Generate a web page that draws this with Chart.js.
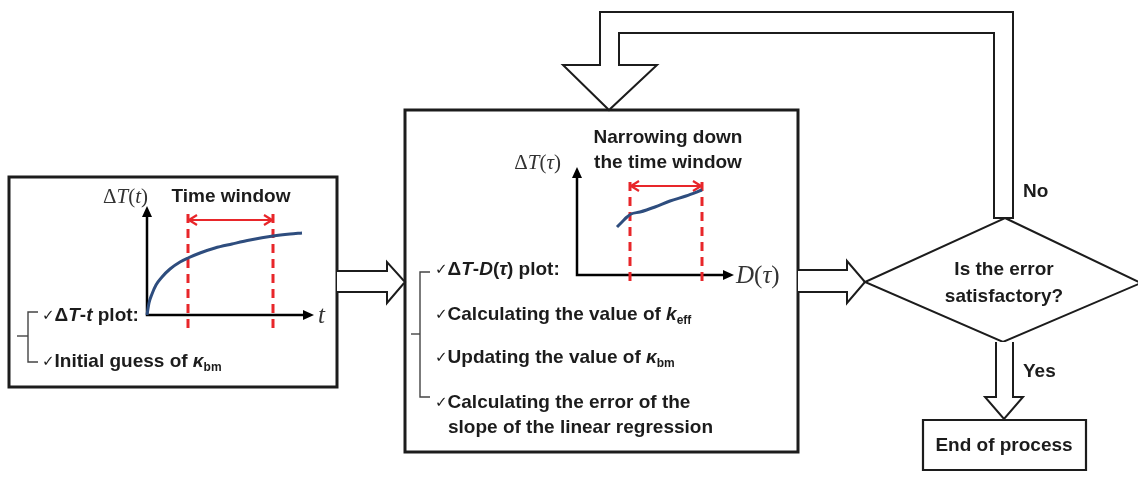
<!DOCTYPE html>
<html>
<head>
<meta charset="utf-8">
<script src="https://cdn.jsdelivr.net/npm/chart.js@4.4.0/dist/chart.umd.min.js"></script>
<style>
  html, body { margin: 0; padding: 0; background: #fff; overflow: hidden; }
  canvas { display: block; }
</style>
</head>
<body>
<canvas id="flow" width="1138" height="477"></canvas>
<script>
// the page itself is the coordinate system: x 0..1138, y 0..477 (downwards)
const W = 1138, H = 477;

// left sketch: dT(t) against t, with the chosen time window
const curveT_x = [147, 149, 152, 156, 162, 170, 180, 188, 200, 215, 232, 250, 273, 290, 302];
const curveT_y = [315, 303, 294, 285, 277, 269, 262, 258, 253, 248, 244, 240, 236, 234, 233];
const windowT_x = [188, 273];

// middle sketch: dT(tau) against D(tau), narrowed window
const curveD_x = [617, 622, 627, 631, 640, 655, 670, 686, 702];
const curveD_y = [227, 222, 217, 214, 212, 207, 201, 196, 190];
const windowD_x = [630, 702];

// texts
const leftItems = [
  [['ck', '✓'], ['b', 'Δ'], ['bi', 'T'], ['b', '-'], ['bi', 't'], ['b', ' plot:']],
  [['ck', '✓'], ['b', 'Initial guess of '], ['bi', 'κ'], ['sub', 'bm']]
];
const midItems = [
  [['ck', '✓'], ['b', 'Δ'], ['bi', 'T'], ['b', '-'], ['bi', 'D'], ['b', '('], ['bi', 'τ'], ['b', ') plot:']],
  [['ck', '✓'], ['b', 'Calculating the value of '], ['bi', 'k'], ['sub', 'eff']],
  [['ck', '✓'], ['b', 'Updating the value of '], ['bi', 'κ'], ['sub', 'bm']],
  [['ck', '✓'], ['b', 'Calculating the error of the']],
  [['b', 'slope of the linear regression']]
];
const windowTitleT = ['Time window'];
const windowTitleD = ['Narrowing down', 'the time window'];
const decisionText = ['Is the error', 'satisfactory?'];
const endText = 'End of process';

const SANS = '"Liberation Sans", Arial, sans-serif';
const SERIF = '"Liberation Serif", "Times New Roman", serif';
const INK = '#1c1c1c';

function fontFor(kind) {
  switch (kind) {
    case 'b': return 'bold 19px ' + SANS;
    case 'bi': return 'italic bold 19px ' + SANS;
    case 'sub': return 'bold 12px ' + SANS;
    case 'ck': return '15px "DejaVu Sans", sans-serif';
    case 's': return '21px ' + SERIF;
    case 'si': return 'italic 21px ' + SERIF;
    case 'sl': return '25px ' + SERIF;
    case 'sli': return 'italic 25px ' + SERIF;
  }
}

function rich(ctx, segs, x, y, align) {
  let total = 0;
  segs.forEach(([k, t]) => { ctx.font = fontFor(k); total += ctx.measureText(t).width; });
  let cx = align === 'center' ? x - total / 2 : align === 'right' ? x - total : x;
  ctx.textAlign = 'left';
  ctx.textBaseline = 'middle';
  segs.forEach(([k, t]) => {
    ctx.font = fontFor(k);
    ctx.fillText(t, cx, k === 'sub' ? y + 6 : y);
    cx += ctx.measureText(t).width;
  });
}

function path(ctx, sx, sy, pts, close) {
  ctx.beginPath();
  pts.forEach(([x, y], i) => i ? ctx.lineTo(sx(x), sy(y)) : ctx.moveTo(sx(x), sy(y)));
  if (close) ctx.closePath();
}

function head(ctx, sx, sy, x, y, dx, dy, len, half, fill) {
  const px = sx(x), py = sy(y), nx = -dy, ny = dx;
  ctx.beginPath();
  ctx.moveTo(px, py);
  ctx.lineTo(px - dx * len + nx * half, py - dy * len + ny * half);
  if (fill) {
    ctx.lineTo(px - dx * len - nx * half, py - dy * len - ny * half);
    ctx.closePath();
    ctx.fill();
  } else {
    ctx.moveTo(px, py);
    ctx.lineTo(px - dx * len - nx * half, py - dy * len - ny * half);
    ctx.stroke();
  }
}

const flowShapes = {
  id: 'flowShapes',
  beforeDatasetsDraw(chart) {
    const ctx = chart.ctx;
    const sx = v => chart.scales.x.getPixelForValue(v);
    const sy = v => chart.scales.y.getPixelForValue(v);
    ctx.save();
    ctx.strokeStyle = INK;
    ctx.fillStyle = '#fff';
    ctx.lineJoin = 'miter';

    // boxes
    ctx.lineWidth = 3;
    path(ctx, sx, sy, [[9, 177], [337, 177], [337, 387], [9, 387]], true); ctx.stroke();
    path(ctx, sx, sy, [[405, 110], [798, 110], [798, 452], [405, 452]], true); ctx.stroke();
    ctx.lineWidth = 2.2;
    path(ctx, sx, sy, [[923, 420], [1086, 420], [1086, 470], [923, 470]], true); ctx.stroke();

    // block arrows
    ctx.lineWidth = 2;
    path(ctx, sx, sy, [[337, 271], [387, 271], [387, 262], [405, 282], [387, 303], [387, 292], [337, 292]], false);
    ctx.fill(); ctx.stroke();
    path(ctx, sx, sy, [[798, 270], [847, 270], [847, 261], [865, 282], [847, 303], [847, 292], [798, 292]], false);
    ctx.fill(); ctx.stroke();
    // feedback loop
    path(ctx, sx, sy, [[994, 218], [994, 33], [619, 33], [619, 65], [657, 65], [609, 110],
      [563, 65], [600, 65], [600, 12], [1013, 12], [1013, 218]], true);
    ctx.fill(); ctx.stroke();
    // decision
    path(ctx, sx, sy, [[1005, 218], [1141, 283], [1003, 342], [865, 282]], true);
    ctx.fill(); ctx.stroke();
    // yes arrow
    path(ctx, sx, sy, [[996, 342], [996, 397], [985, 397], [1004, 419], [1023, 397], [1013, 397], [1013, 342]], false);
    ctx.fill(); ctx.stroke();

    // brackets
    ctx.lineWidth = 1.4;
    ctx.strokeStyle = '#444';
    path(ctx, sx, sy, [[38, 312], [28, 312], [28, 362], [38, 362]], false); ctx.stroke();
    path(ctx, sx, sy, [[17, 336], [28, 336]], false); ctx.stroke();
    path(ctx, sx, sy, [[430, 272], [420, 272], [420, 397], [430, 397]], false); ctx.stroke();
    path(ctx, sx, sy, [[411, 334], [420, 334]], false); ctx.stroke();

    // sketch axes
    ctx.strokeStyle = '#000';
    ctx.fillStyle = '#000';
    ctx.lineWidth = 2.5;
    path(ctx, sx, sy, [[147, 214], [147, 315], [306, 315]], false); ctx.stroke();
    head(ctx, sx, sy, 147, 206, 0, -1, 11, 5, true);
    head(ctx, sx, sy, 314, 315, 1, 0, 11, 5, true);
    path(ctx, sx, sy, [[577, 175], [577, 275], [726, 275]], false); ctx.stroke();
    head(ctx, sx, sy, 577, 167, 0, -1, 11, 5, true);
    head(ctx, sx, sy, 734, 275, 1, 0, 11, 5, true);

    // window arrows
    ctx.strokeStyle = '#e8262a';
    ctx.lineWidth = 2.2;
    [[windowT_x, 220], [windowD_x, 186]].forEach(([xs, y]) => {
      path(ctx, sx, sy, [[xs[0] + 1, y], [xs[1] - 1, y]], false); ctx.stroke();
      head(ctx, sx, sy, xs[0] + 1, y, -1, 0, 8, 5, false);
      head(ctx, sx, sy, xs[1] - 1, y, 1, 0, 8, 5, false);
    });
    ctx.restore();
  },
  afterDatasetsDraw(chart) {
    const ctx = chart.ctx;
    const sx = v => chart.scales.x.getPixelForValue(v);
    const sy = v => chart.scales.y.getPixelForValue(v);
    ctx.save();
    ctx.fillStyle = INK;
    rich(ctx, leftItems[0], sx(42), sy(316), 'left');
    rich(ctx, leftItems[1], sx(42), sy(362), 'left');
    const midY = [270, 315, 358, 403, 428];
    midItems.forEach((segs, i) => rich(ctx, segs, sx(i === 4 ? 448 : 435), sy(midY[i]), 'left'));

    rich(ctx, [['b', windowTitleT[0]]], sx(231), sy(197), 'center');
    rich(ctx, [['b', windowTitleD[0]]], sx(668), sy(138), 'center');
    rich(ctx, [['b', windowTitleD[1]]], sx(668), sy(163), 'center');
    rich(ctx, [['b', decisionText[0]]], sx(1004), sy(270), 'center');
    rich(ctx, [['b', decisionText[1]]], sx(1004), sy(297), 'center');
    rich(ctx, [['b', endText]], sx(1004), sy(446), 'center');
    rich(ctx, [['b', 'No']], sx(1023), sy(192), 'left');
    rich(ctx, [['b', 'Yes']], sx(1023), sy(372), 'left');

    // sketch axis labels
    ctx.fillStyle = '#333';
    rich(ctx, [['s', 'Δ'], ['si', 'T'], ['s', '('], ['si', 't'], ['s', ')']], sx(148), sy(197), 'right');
    rich(ctx, [['sli', 't']], sx(318), sy(316), 'left');
    rich(ctx, [['s', 'Δ'], ['si', 'T'], ['s', '('], ['si', 'τ'], ['s', ')']], sx(561), sy(163), 'right');
    rich(ctx, [['sli', 'D'], ['sl', '('], ['sli', 'τ'], ['sl', ')']], sx(736), sy(276), 'left');
    ctx.restore();
  }
};

const zip = (xs, ys) => xs.map((x, i) => ({ x, y: ys[i] }));
const windowLine = (x, top, bottom) => ({
  data: [{ x, y: top }, { x, y: bottom }],
  showLine: true, borderColor: '#e8262a', borderWidth: 3, borderDash: [9, 6], pointRadius: 0
});

new Chart(document.getElementById('flow'), {
  type: 'scatter',
  data: {
    datasets: [
      { data: zip(curveT_x, curveT_y), showLine: true, borderColor: '#2e4d7e', borderWidth: 3,
        pointRadius: 0, cubicInterpolationMode: 'monotone' },
      { data: zip(curveD_x, curveD_y), showLine: true, borderColor: '#2e4d7e', borderWidth: 3,
        pointRadius: 0, cubicInterpolationMode: 'monotone' },
      windowLine(windowT_x[0], 214, 333),
      windowLine(windowT_x[1], 214, 333),
      windowLine(windowD_x[0], 182, 286),
      windowLine(windowD_x[1], 182, 286)
    ]
  },
  options: {
    responsive: false,
    animation: false,
    devicePixelRatio: 1,
    layout: { padding: 0 },
    plugins: { legend: { display: false }, tooltip: { enabled: false } },
    scales: {
      x: { type: 'linear', min: 0, max: W, display: false },
      y: { type: 'linear', min: 0, max: H, reverse: true, display: false }
    }
  },
  plugins: [flowShapes]
});
</script>
</body>
</html>
